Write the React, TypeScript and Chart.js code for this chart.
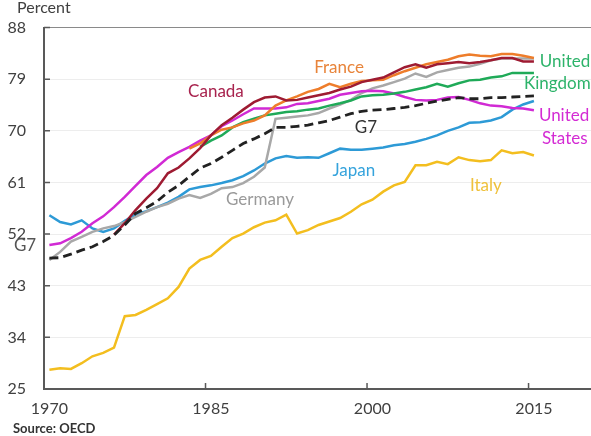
import React, { useEffect, useRef } from "react";
import { Chart, registerables } from "chart.js";

Chart.register(...registerables);

const YEARS: number[] = Array.from({ length: 46 }, (_, i) => 1970 + i);
const Y_TICKS = [25, 34, 43, 52, 61, 70, 79, 88];
const X_TICK_LABELS = [1970, 1985, 2000, 2015];

const G7 = [47.8, 47.9, 48.5, 49.2, 49.8, 50.7, 51.8, 53.6, 55.6, 56.6,
  57.7, 59.3, 60.5, 62.0, 63.5, 64.3, 65.4, 66.6, 67.8, 68.6,
  69.5, 70.6, 70.6, 70.8, 71.0, 71.4, 71.8, 72.4, 73.0, 73.4,
  73.6, 73.7, 73.9, 74.1, 74.4, 74.8, 75.2, 75.5, 75.8, 75.6,
  75.6, 75.8, 75.8, 75.9, 76.0, 76.1];
const CANADA = [null, null, null, null, null, null, 51.9, 53.9, 56.2, 58.2,
  60.0, 62.6, 63.6, 65.2, 67.0, 69.2, 71.0, 72.3, 73.7, 75.0,
  75.8, 76.0, 75.3, 75.4, 75.8, 76.2, 76.6, 77.2, 77.7, 78.5,
  78.9, 79.3, 80.2, 81.1, 81.6, 81.0, 81.6, 81.8, 82.0, 81.8,
  82.0, 82.3, 82.7, 82.7, 82.1, 82.1];
const FRANCE = [null, null, null, null, null, null, null, null, null, null,
  null, null, null, 66.9, 67.8, 69.2, 70.2, 70.6, 71.3, 71.8,
  72.7, 74.4, 75.3, 76.0, 76.8, 77.3, 78.2, 77.6, 78.2, 78.7,
  78.8, 78.9, 79.7, 80.4, 81.0, 81.6, 82.0, 82.4, 83.0, 83.3,
  83.1, 83.0, 83.4, 83.4, 83.1, 82.7];
const UK = [null, null, null, null, null, null, null, null, null, null,
  null, null, null, null, 67.2, 68.3, 69.2, 70.6, 71.5, 72.1,
  72.7, 73.0, 73.3, 73.4, 73.7, 73.9, 74.4, 74.8, 75.3, 76.0,
  76.2, 76.3, 76.5, 76.8, 77.2, 77.6, 78.2, 77.7, 78.3, 78.8,
  78.9, 79.3, 79.5, 80.1, 80.1, 80.1];
const US = [50.1, 50.4, 51.3, 52.4, 53.9, 55.1, 56.7, 58.5, 60.4, 62.3,
  63.7, 65.3, 66.3, 67.2, 68.3, 69.2, 70.8, 71.8, 72.9, 73.9,
  73.9, 73.9, 74.1, 74.7, 74.8, 75.2, 75.6, 76.3, 76.6, 76.9,
  77.0, 76.9, 76.5, 75.9, 75.4, 75.3, 75.4, 75.8, 75.9, 75.4,
  74.8, 74.4, 74.3, 74.0, 73.9, 73.6];
const JAPAN = [55.3, 54.1, 53.7, 54.4, 53.0, 52.4, 53.0, 54.3, 55.4, 56.0,
  56.7, 57.5, 58.5, 59.8, 60.2, 60.5, 60.9, 61.4, 62.1, 63.1,
  64.3, 65.2, 65.6, 65.3, 65.4, 65.3, 66.1, 66.9, 66.7, 66.7,
  66.9, 67.1, 67.5, 67.7, 68.1, 68.6, 69.2, 70.0, 70.6, 71.4,
  71.5, 71.8, 72.4, 73.7, 74.6, 75.2];
const GERMANY = [47.5, 48.9, 50.7, 51.5, 52.4, 53.0, 53.4, 54.1, 55.0, 55.9,
  56.7, 57.3, 58.2, 58.8, 58.3, 59.0, 60.0, 60.2, 60.9, 62.0,
  63.6, 72.1, 72.3, 72.5, 72.7, 73.1, 73.9, 74.6, 75.4, 76.6,
  77.4, 77.9, 78.5, 79.1, 80.0, 79.4, 80.2, 80.6, 81.0, 81.2,
  81.7, 82.3, 82.6, 82.6, 82.6, 82.6];
const ITALY = [28.35, 28.6, 28.5, 29.5, 30.7, 31.3, 32.2, 37.7, 37.9, 38.8,
  39.8, 40.8, 42.8, 46.0, 47.5, 48.2, 49.8, 51.3, 52.1, 53.2,
  54.0, 54.4, 55.4, 52.1, 52.7, 53.6, 54.2, 54.8, 55.9, 57.2,
  58.0, 59.4, 60.5, 61.1, 64.0, 64.0, 64.6, 64.2, 65.4, 64.9,
  64.7, 64.9, 66.6, 66.1, 66.3, 65.7];

const FONT = "Lato, 'Open Sans', sans-serif";

type Lbl = { text: string; color: string; year: number; value: number; align: CanvasTextAlign };
const LABELS: Lbl[] = [
  { text: "Canada", color: "#a8234e", year: 1985.47, value: 77.0, align: "center" },
  { text: "France", color: "#e8843a", year: 1996.9, value: 81.2, align: "center" },
  { text: "United", color: "#2db36a", year: 2015.55, value: 82.1, align: "left" },
  { text: "Kingdom", color: "#2db36a", year: 2014.07, value: 78.3, align: "left" },
  { text: "United", color: "#d42bd4", year: 2015.46, value: 72.7, align: "left" },
  { text: "States", color: "#d42bd4", year: 2015.74, value: 68.7, align: "left" },
  { text: "G7", color: "#333333", year: 1999.4, value: 70.6, align: "center" },
  { text: "Japan", color: "#35a3dc", year: 1998.28, value: 63.1, align: "center" },
  { text: "Germany", color: "#9a9a9a", year: 1989.56, value: 58.1, align: "center" },
  { text: "Italy", color: "#efc13c", year: 2010.54, value: 60.5, align: "center" },
  { text: "G7", color: "#555555", year: 1967.74, value: 50.1, align: "center" },
];

const annotations = {
  id: "annotations",
  afterDraw(chart: any) {
    const { ctx, chartArea, scales } = chart;
    const x = scales.x;
    const y = scales.y;
    ctx.save();
    ctx.strokeStyle = "#595959";
    ctx.lineWidth = 1.5;
    ctx.beginPath();
    Y_TICKS.forEach((v) => {
      const py = y.getPixelForValue(v);
      ctx.moveTo(chartArea.left, py);
      ctx.lineTo(chartArea.left + 6, py);
    });
    X_TICK_LABELS.forEach((v) => {
      if (v === 1970) return;
      const px = x.getPixelForValue(v - 0.5);
      ctx.moveTo(px, chartArea.bottom);
      ctx.lineTo(px, chartArea.bottom - 6);
    });
    ctx.stroke();

    ctx.textBaseline = "alphabetic";
    ctx.font = `17px ${FONT}`;
    LABELS.forEach((l) => {
      ctx.fillStyle = l.color;
      ctx.textAlign = l.align;
      ctx.fillText(l.text, x.getPixelForValue(l.year), y.getPixelForValue(l.value) + 6);
    });

    ctx.textAlign = "left";
    ctx.fillStyle = "#404040";
    ctx.font = `16px ${FONT}`;
    ctx.fillText("Percent", 17, 13);
    ctx.font = `bold 13px ${FONT}`;
    ctx.fillStyle = "#333333";
    ctx.fillText("Source: OECD", 13, 433);
    ctx.restore();
  },
};

function series(label: string, values: (number | null)[], color: string, width: number, dash: number[] = []) {
  return {
    label,
    data: YEARS.map((yr, i) => ({ x: yr, y: values[i] })),
    borderColor: color,
    backgroundColor: color,
    borderWidth: width,
    borderDash: dash,
    pointRadius: 0,
    tension: 0,
    spanGaps: false,
    fill: false,
  };
}

export default function App() {
  const ref = useRef<HTMLCanvasElement | null>(null);
  useEffect(() => {
    if (!ref.current) return;
    const chart = new Chart(ref.current, {
      type: "line",
      data: {
        datasets: [
          series("G7", G7, "#222222", 2.8, [9, 5]),
          series("Canada", CANADA, "#9e1b32", 2.5),
          series("France", FRANCE, "#ee7d2b", 2.5),
          series("United Kingdom", UK, "#1faa58", 2.5),
          series("United States", US, "#d12ad4", 2.5),
          series("Germany", GERMANY, "#a8a8a8", 2.5),
          series("Japan", JAPAN, "#2d9ad6", 2.5),
          series("Italy", ITALY, "#f3be1f", 2.5),
        ] as any,
      },
      options: {
        animation: false,
        responsive: false,
        devicePixelRatio: 1,
        layout: { padding: { top: 27, right: 0, left: 0, bottom: 0 } },
        plugins: { legend: { display: false }, tooltip: { enabled: false }, title: { display: false } },
        scales: {
          x: {
            type: "linear",
            min: 1969.5,
            max: 2020.3,
            afterBuildTicks: (s: any) => {
              s.ticks = X_TICK_LABELS.map((v) => ({ value: v }));
            },
            afterFit: (s: any) => {
              s.height = 47;
            },
            grid: { display: false, drawTicks: false },
            border: { display: true, color: "#595959", width: 2 },
            ticks: {
              autoSkip: false,
              maxRotation: 0,
              padding: 10,
              color: "#404040",
              font: { family: FONT, size: 16 },
              callback: (v: any) => String(v),
            },
          },
          y: {
            min: 25,
            max: 88,
            afterBuildTicks: (s: any) => {
              s.ticks = Y_TICKS.map((v) => ({ value: v }));
            },
            afterFit: (s: any) => {
              s.width = 44;
            },
            grid: {
              drawTicks: false,
              lineWidth: 1,
              color: (c: any) => (c.tick && c.tick.value === 88 ? "#8a8a8a" : "#ededed"),
            },
            border: { display: true, color: "#595959", width: 2 },
            ticks: {
              padding: 18,
              color: "#404040",
              font: { family: FONT, size: 16 },
              callback: (v: any) => String(v),
            },
          },
        },
      } as any,
      plugins: [annotations],
    });
    return () => chart.destroy();
  }, []);
  return (
    <div style={{ position: "absolute", left: 0, top: 0, width: 591, height: 436, background: "#fff" }}>
      <canvas ref={ref} width={591} height={436} style={{ display: "block" }} />
    </div>
  );
}
